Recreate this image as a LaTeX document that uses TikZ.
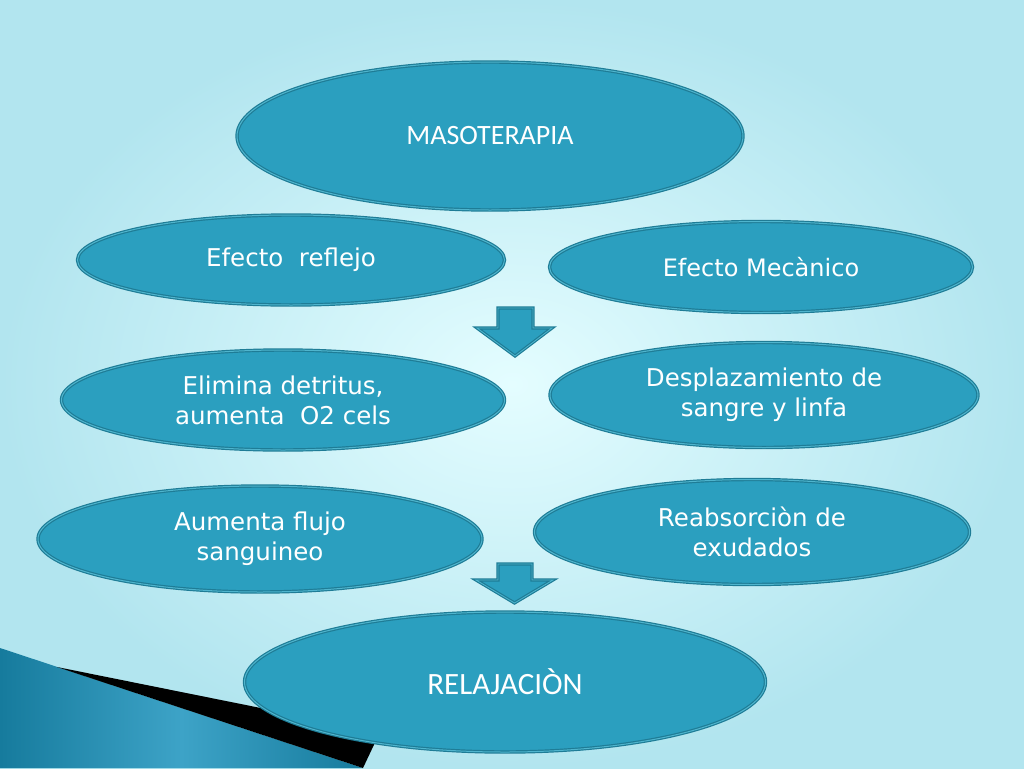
\documentclass[tikz,border=0pt]{standalone}
\usepackage{fontspec}
\setmainfont{DejaVu Sans}
\newfontfamily\titlefont{Carlito}
\usetikzlibrary{shapes.geometric, positioning}

\definecolor{bgin}{HTML}{E4FDFF}
\definecolor{bgout}{HTML}{B2E5EF}
\definecolor{ovalfill}{HTML}{2B9FBF}
\definecolor{ovalline}{HTML}{1E7C96}
\definecolor{ovaldouble}{HTML}{4FB5CE}
\definecolor{cornerdark}{HTML}{167B9D}
\definecolor{cornerlight}{HTML}{3DA3C7}

\begin{document}
\begin{tikzpicture}[x=1pt, y=-1pt]
\tikzset{
    oval/.style={ellipse, draw=ovalline, line width=1.2pt, double=ovaldouble, double distance=1pt,
        fill=ovalfill, text=white, inner sep=0pt, align=center, font=\fontsize{24.5}{30}\selectfont},
    title/.style={oval, font=\titlefont\fontsize{28}{32}\selectfont},
    down/.style={draw=ovalline, line width=1.2pt, double=ovaldouble, double distance=0.8pt,
        fill=ovalfill, line join=miter}
}

% --- Background ---
\useasboundingbox (0,0) rectangle (1024,768);
\shade[inner color=bgin, outer color=bgout] (0,0) rectangle (1024,768);
\shade[left color=cornerdark, right color=cornerdark, middle color=cornerlight]
    (0,648) -- (363,768) -- (0,768) -- cycle;
\fill[black] (57,667) -- (380,732) -- (363,768) -- cycle;

% --- Top ---
\node (masa) at (490,136) [title, minimum width=506pt, minimum height=148pt] {MASOTERAPIA};
\node (reflejo) at (291,260) [oval, minimum width=427pt, minimum height=90pt] {Efecto\ \ reflejo};
\node (mecanico) at (761,267) [oval, minimum width=423pt, minimum height=91pt, font=\fontsize{24}{30}\selectfont] {Efecto Mecànico};

% first arrow
\draw[down] (498,308) -- (533,308) -- (533,328) -- (552,328) -- (515,356)
    -- (477,328) -- (498,328) -- cycle;

% --- Effects ---
\node (elimina) at (283,400) [oval, minimum width=443pt, minimum height=100pt] {Elimina detritus,\\aumenta\ \ O2 cels};
\node (desplaz) at (764,395) [oval, minimum width=428pt, minimum height=105pt] {Desplazamiento de\\sangre y linfa};
\node (flujo) at (260,539) [oval, minimum width=444pt, minimum height=106pt] {Aumenta flujo\\sanguineo};
\node (reabs) at (752,532) [oval, minimum width=435pt, minimum height=105pt] {Reabsorciòn de\\exudados};

% second arrow
\draw[down] (498,564) -- (532,564) -- (532,580) -- (553,580) -- (514.5,603)
    -- (476,580) -- (498,580) -- cycle;

% --- Result ---
\node (relaj) at (505,682) [title, minimum width=521pt, minimum height=140pt, font=\titlefont\fontsize{31}{34}\selectfont] {RELAJACIÒN};

\end{tikzpicture}
\end{document}
